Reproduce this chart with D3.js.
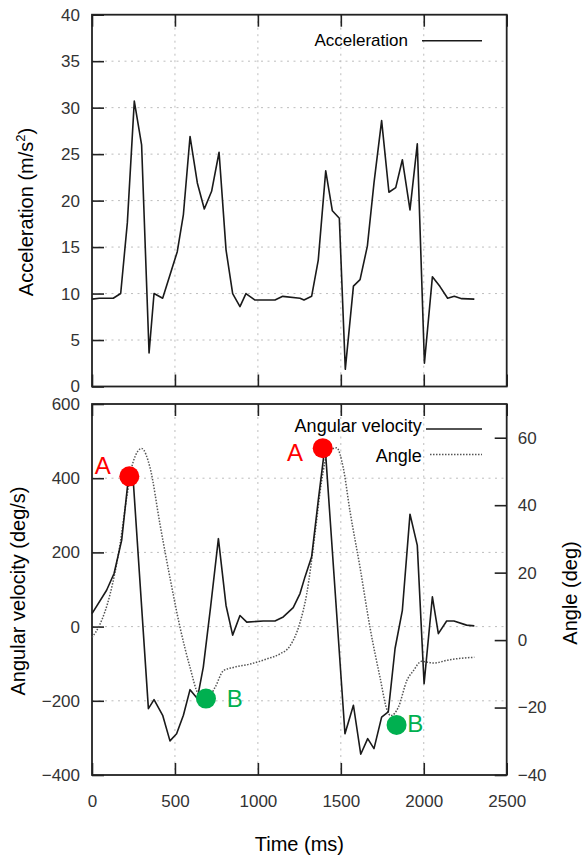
<!DOCTYPE html>
<html>
<head>
<meta charset="utf-8">
<script src="https://cdn.jsdelivr.net/npm/d3@7"></script>
<style>
  body { margin: 0; background: #fff; }
  text { font-family: "Liberation Sans", Arial, sans-serif; }
</style>
</head>
<body>
<div id="chart-area"></div>
<script>
// acceleration trace (top panel)
const accTime = [0, 44, 128, 173, 213, 255, 299, 344, 374, 426, 470, 514, 551, 591, 635, 677, 721, 766, 808, 848,
                 892, 928, 983, 1103, 1150, 1254, 1278, 1324, 1364, 1409, 1449, 1491, 1527, 1576, 1616, 1660, 1700,
                 1746, 1790, 1831, 1871, 1917, 1961, 2004, 2052, 2098, 2144, 2184, 2229, 2305]
const accel = [9.4, 9.5, 9.5, 10.0, 17.6, 30.7, 26.0, 3.6, 10.0, 9.5, 12.0, 14.5, 18.5, 26.9, 21.9, 19.1, 21.0, 25.2, 14.7, 10.0,
               8.6, 10.0, 9.3, 9.3, 9.7, 9.5, 9.3, 9.7, 13.6, 23.2, 18.9, 18.1, 1.85, 10.8, 11.5, 15.1, 21.9,
               28.6, 20.9, 21.4, 24.4, 19.0, 26.1, 2.5, 11.8, 10.75, 9.5, 9.7, 9.45, 9.4]

// angular velocity trace (bottom panel, left axis)
const gyroTime = [0, 88, 133, 179, 219, 245, 340, 374, 426, 470, 510, 551, 591, 635, 671, 715, 762, 808, 848, 892,
                  933, 1033, 1103, 1153, 1213, 1254, 1284, 1324, 1364, 1405, 1525, 1576, 1620, 1662, 1700, 1746,
                  1786, 1827, 1871, 1917, 1961, 2002, 2052, 2088, 2138, 2182, 2258, 2305]
const gyro = [35, 98, 143, 233, 399, 418, -221, -197, -239, -308, -289, -239, -170, -194, -109, 53, 237, 57, -23, 30,
              12, 15, 15, 26, 51, 89, 134, 188, 340, 488, -289, -212, -344, -302, -329, -244,
              -230, -59, 44, 303, 219, -154, 80, -19, 15, 15, 4, 2]

// angle trace (bottom panel, right axis)
const angTime = [0, 48, 109, 169, 209, 249, 299, 350, 410, 470, 531, 591, 641, 687, 742, 792, 852, 953, 1053, 1133,
                 1194, 1254, 1294, 1344, 1384, 1425, 1475, 1515, 1555, 1616, 1676, 1736, 1780, 1801, 1847, 1898,
                 1937, 1987, 2058, 2158, 2305]
const angle = [0.8, 4.7, 13.6, 28.4, 42.2, 53, 56.8, 51.1, 34.3, 18.5, 3.7, -8.1, -16, -17.5, -14, -9.1, -8.1, -7.1, -5.6, -4.1,
               -1.7, 5.2, 13.6, 31.4, 47.1, 56, 57, 51, 38.3, 21.5, 3.7, -11, -20.9, -22.4, -19.9, -12,
               -9.1, -6.3, -6.8, -5.8, -5.1]

// marked events
const markTime = [225, 1391, 687, 1836]
const markGyro = [405, 481, -194, -265]
const markLabel = ['A', 'A', 'B', 'B']

// ticks
const xTicks = [0, 500, 1000, 1500, 2000, 2500]
const accTicks = [0, 5, 10, 15, 20, 25, 30, 35, 40]
const gyroTicks = [-400, -200, 0, 200, 400, 600]
const angTicks = [-40, -20, 0, 20, 40, 60]

const W = 583, H = 855
const left = 92, right = 506.7
const top1 = 14.7, bot1 = 386.5
const top2 = 404, bot2 = 775

const svg = d3.select('#chart-area').append('svg')
              .attr('width', W).attr('height', H)

svg.append('rect').attr('width', W).attr('height', H).attr('fill', '#fff')

const x = d3.scaleLinear().domain([0, 2500]).range([left, right])
const yAcc = d3.scaleLinear().domain([0, 40]).range([bot1, top1])
const yGyro = d3.scaleLinear().domain([-400, 600]).range([bot2, top2])
const yAng = d3.scaleLinear().domain([-40, 70]).range([bot2, top2])

const gridStyle = g => g.attr('stroke', '#bdbdbd').attr('stroke-width', 1).attr('stroke-dasharray', '2,4.5')

// GRID
function grid(yScale, yTicks, y0, y1) {
    const g = svg.append('g').call(gridStyle)
    g.selectAll('.gx').data(xTicks.slice(1, -1)).enter().append('line')
     .attr('x1', d => x(d)).attr('x2', d => x(d)).attr('y1', y0).attr('y2', y1)
    g.selectAll('.gy').data(yTicks.slice(1, -1)).enter().append('line')
     .attr('x1', left).attr('x2', right).attr('y1', d => yScale(d)).attr('y2', d => yScale(d))
}
grid(yAcc, accTicks, top1, bot1)
grid(yGyro, gyroTicks, top2, bot2)

// AXES
function styleAxis(g) {
    g.select('.domain').remove()
    g.selectAll('.tick line').attr('stroke', '#222').attr('stroke-width', 1.6)
    g.selectAll('.tick text').attr('fill', '#333').attr('font-size', 17)
        .attr('font-family', '"Liberation Sans", Arial, sans-serif')
}
const plain = d3.format('d')

svg.append('g').attr('transform', `translate(${left},0)`)
   .call(d3.axisLeft(yAcc).tickValues(accTicks).tickFormat(plain).tickSizeInner(-12).tickSizeOuter(0).tickPadding(12))
   .call(styleAxis)
svg.append('g').attr('transform', `translate(0,${top1})`)
   .call(d3.axisTop(x).tickValues(xTicks).tickSizeInner(-12).tickSizeOuter(0).tickFormat(''))
   .call(styleAxis)
svg.append('g').attr('transform', `translate(0,${bot1})`)
   .call(d3.axisBottom(x).tickValues(xTicks).tickSizeInner(-12).tickSizeOuter(0).tickFormat(''))
   .call(styleAxis)

svg.append('g').attr('transform', `translate(${left},0)`)
   .call(d3.axisLeft(yGyro).tickValues(gyroTicks).tickFormat(plain).tickSizeInner(-12).tickSizeOuter(0).tickPadding(12))
   .call(styleAxis)
svg.append('g').attr('transform', `translate(${right},0)`)
   .call(d3.axisRight(yAng).tickValues(angTicks).tickFormat(plain).tickSizeInner(-12).tickSizeOuter(0).tickPadding(11))
   .call(styleAxis)
svg.append('g').attr('transform', `translate(0,${top2})`)
   .call(d3.axisTop(x).tickValues(xTicks).tickSizeInner(-12).tickSizeOuter(0).tickFormat(''))
   .call(styleAxis)
svg.append('g').attr('transform', `translate(0,${bot2})`)
   .call(d3.axisBottom(x).tickValues(xTicks).tickFormat(plain).tickSizeInner(-12).tickSizeOuter(0).tickPadding(19.5))
   .call(styleAxis)

// FRAMES
;[[top1, bot1], [top2, bot2]].forEach(([t, b]) => {
    svg.append('rect').attr('x', left).attr('y', t).attr('width', right - left).attr('height', b - t)
       .attr('fill', 'none').attr('stroke', '#222').attr('stroke-width', 1.8)
})

// LINES
const accLine = d3.line().x((d, i) => x(accTime[i])).y(d => yAcc(d))
svg.append('path').datum(accel).attr('d', accLine)
   .attr('fill', 'none').attr('stroke', '#1a1a1a').attr('stroke-width', 1.6).attr('stroke-linejoin', 'round')

const angLine = d3.line().x((d, i) => x(angTime[i])).y(d => yAng(d)).curve(d3.curveMonotoneX)
svg.append('path').datum(angle).attr('d', angLine)
   .attr('fill', 'none').attr('stroke', '#555').attr('stroke-width', 1.5).attr('stroke-dasharray', '1.5,1.5')

const gyroLine = d3.line().x((d, i) => x(gyroTime[i])).y(d => yGyro(d))
svg.append('path').datum(gyro).attr('d', gyroLine)
   .attr('fill', 'none').attr('stroke', '#1a1a1a').attr('stroke-width', 1.6).attr('stroke-linejoin', 'round')

// MARKERS
const markColor = l => l === 'A' ? '#ff0000' : '#00b050'
const labelDx = [-18.6, -19.7, 20.7, 10.7]
const labelDy = [-2.7, 12.7, 8.4, 6.7]
svg.selectAll('.mark').data(markGyro).enter().append('circle')
   .attr('cx', (d, i) => x(markTime[i])).attr('cy', d => yGyro(d)).attr('r', 10)
   .attr('fill', (d, i) => markColor(markLabel[i]))
svg.selectAll('.marklabel').data(markGyro).enter().append('text')
   .attr('x', (d, i) => x(markTime[i]) + labelDx[i]).attr('y', (d, i) => yGyro(d) + labelDy[i])
   .attr('text-anchor', (d, i) => labelDx[i] < 0 ? 'end' : 'start')
   .attr('font-size', 24).attr('fill', (d, i) => markColor(markLabel[i]))
   .text((d, i) => markLabel[i])

// LEGENDS
svg.append('text').attr('x', 408).attr('y', 46).attr('text-anchor', 'end').attr('font-size', 17)
   .text('Acceleration')
svg.append('line').attr('x1', 422).attr('x2', 482).attr('y1', 40.7).attr('y2', 40.7)
   .attr('stroke', '#1a1a1a').attr('stroke-width', 1.6)

svg.append('text').attr('x', 421.7).attr('y', 432).attr('text-anchor', 'end').attr('font-size', 18)
   .text('Angular velocity')
svg.append('line').attr('x1', 426).attr('x2', 482).attr('y1', 429).attr('y2', 429)
   .attr('stroke', '#1a1a1a').attr('stroke-width', 1.6)
svg.append('text').attr('x', 421.7).attr('y', 462).attr('text-anchor', 'end').attr('font-size', 18)
   .text('Angle')
svg.append('line').attr('x1', 430).attr('x2', 482).attr('y1', 454.5).attr('y2', 454.5)
   .attr('stroke', '#555').attr('stroke-width', 1.5).attr('stroke-dasharray', '1.5,1.5')

// AXIS TITLES
const t1 = svg.append('text').attr('transform', 'translate(33,212) rotate(-90)')
   .attr('text-anchor', 'middle').attr('font-size', 20)
t1.append('tspan').text('Acceleration (m/s')
t1.append('tspan').attr('font-size', 13).attr('dy', -8).text('2')
t1.append('tspan').attr('dy', 8).text(')')

svg.append('text').attr('transform', 'translate(25,591) rotate(-90)')
   .attr('text-anchor', 'middle').attr('font-size', 20).text('Angular velocity (deg/s)')
svg.append('text').attr('transform', 'translate(577,593) rotate(-90)')
   .attr('text-anchor', 'middle').attr('font-size', 20).text('Angle (deg)')
svg.append('text').attr('x', (left + right) / 2).attr('y', 851)
   .attr('text-anchor', 'middle').attr('font-size', 20).text('Time (ms)')
</script>
</body>
</html>
